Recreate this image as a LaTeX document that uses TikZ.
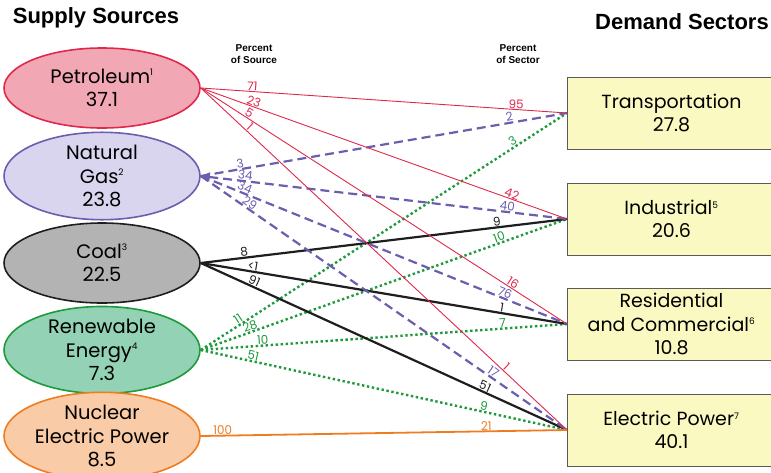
\documentclass[tikz,border=0pt]{standalone}
\usepackage{fontspec}
\setmainfont{Poppins}
\newfontfamily\headfont{Liberation Sans}
\usepackage{tikz}
\usetikzlibrary{shapes.geometric,positioning,arrows.meta}

\definecolor{petline}{HTML}{E0284C}
\definecolor{petfill}{HTML}{F2A7B4}
\definecolor{gasline}{HTML}{6B5EAE}
\definecolor{gasfill}{HTML}{D9D5EE}
\definecolor{coalline}{HTML}{1E1E1E}
\definecolor{coalfill}{HTML}{B3B3B3}
\definecolor{renline}{HTML}{1E9A3C}
\definecolor{renfill}{HTML}{93D2B4}
\definecolor{nucline}{HTML}{EE7D22}
\definecolor{nucfill}{HTML}{F9CBA6}
\definecolor{secfill}{HTML}{FBF9C2}
\definecolor{secline}{HTML}{5A5A5A}

\tikzset{
	source/.style={ellipse, draw, line width=1.6pt, minimum width=196pt, minimum height=80pt,
		inner sep=0pt, align=center, font=\fontsize{19.5}{23.5}\selectfont},
	sector/.style={rectangle, draw=secline, fill=secfill, line width=1pt, anchor=west,
		minimum width=208pt, minimum height=72pt, align=center, font=\fontsize{19}{23.5}\selectfont},
	petflow/.style={color=petline, line width=0.9pt},
	gasflow/.style={color=gasline, line width=2.2pt, dash pattern=on 9pt off 5pt},
	coalflow/.style={color=coalline, line width=2.2pt},
	renflow/.style={color=renline, line width=2.4pt, dash pattern=on 2.4pt off 2.6pt},
	nucflow/.style={color=nucline, line width=1.8pt},
	flowlab/.style={sloped, above, inner sep=0.3pt, font=\fontsize{12}{12}\selectfont},
	headline/.style={font=\headfont\bfseries\fontsize{22}{24}\selectfont},
	colhead/.style={font=\headfont\bfseries\fontsize{10}{11.5}\selectfont, align=center},
}
\newcommand{\supnum}[1]{\textsuperscript{\fontsize{9}{9}\selectfont #1}}

\begin{document}
\begin{tikzpicture}[x=1pt,y=-1pt]

	% Definitions.
	\tikzstyle{every node}=[inner sep=2pt]
	\def\SrcX{102}
	\def\SecX{567}
	\useasboundingbox (0,0) rectangle (771,472);

	% ---------- Headers ---------

	\node[headline] (supply) at (96,18) {Supply Sources};
	\node[headline] (demand) at (682,22) {Demand Sectors};
	\node[colhead] (pctsrc) at (254,54) {Percent\\of Source};
	\node[colhead] (pctsec) at (518,54) {Percent\\of Sector};

	% ---------- Supply Sources ---------

	\node[source, fill=petfill, draw=petline] (petroleum) at (\SrcX,88) {Petroleum\supnum{1}\\37.1};
	\node[source, fill=gasfill, draw=gasline] (gas) at (\SrcX,176) {Natural\\Gas\supnum{2}\\23.8};
	\node[source, fill=coalfill, draw=coalline] (coal) at (\SrcX,263) {Coal\supnum{3}\\22.5};
	\node[source, fill=renfill, draw=renline] (renew) at (\SrcX,350) {Renewable\\Energy\supnum{4}\\7.3};
	\node[source, fill=nucfill, draw=nucline] (nuclear) at (\SrcX,436) {Nuclear\\Electric Power\\8.5};

	% ---------- Demand Sectors ---------

	\node[sector] (transport) at (\SecX,113) {Transportation\\27.8};
	\node[sector] (industrial) at (\SecX,219) {Industrial\supnum{5}\\20.6};
	\node[sector] (residential) at (\SecX,324) {Residential\\and Commercial\supnum{6}\\10.8};
	\node[sector] (electric) at (\SecX,430) {Electric Power\supnum{7}\\40.1};

	% ---------- Flows ---------

	% Renewable.
	\draw[renflow] (renew.east) -- node[flowlab, pos=0.11] {11} node[flowlab, pos=0.86] {3} (transport.west);
	\draw[renflow] (renew.east) -- node[flowlab, pos=0.14] {28} node[flowlab, pos=0.82] {10} (industrial.west);
	\draw[renflow] (renew.east) -- node[flowlab, pos=0.17] {10} node[flowlab, pos=0.825] {7} (residential.west);
	\draw[renflow] (renew.east) -- node[flowlab, pos=0.14] {51} node[flowlab, pos=0.77] {9} (electric.west);

	% Coal.
	\draw[coalflow] (coal.east) -- node[flowlab, pos=0.12] {8} node[flowlab, pos=0.81] {9} (industrial.west);
	\draw[coalflow] (coal.east) -- node[flowlab, pos=0.14] {<1} node[flowlab, pos=0.82] {1} (residential.west);
	\draw[coalflow] (coal.east) -- node[flowlab, pos=0.14] {91} node[flowlab, pos=0.77] {51} (electric.west);

	% Natural gas.
	\draw[gasflow] (gas.east) -- node[flowlab, pos=0.11] {3} node[flowlab, pos=0.845] {2} (transport.west);
	\draw[gasflow, {Triangle[length=9pt,width=9pt]}-] (gas.east) -- node[flowlab, pos=0.12] {34} node[flowlab, pos=0.835] {40} (industrial.west);
	\draw[gasflow] (gas.east) -- node[flowlab, pos=0.115] {34} node[flowlab, pos=0.825] {76} (residential.west);
	\draw[gasflow] (gas.east) -- node[flowlab, pos=0.125] {29} node[flowlab, pos=0.79] {17} (electric.west);

	% Petroleum.
	\draw[petflow] (petroleum.east) -- node[flowlab, pos=0.14] {71} node[flowlab, pos=0.86] {95} (transport.west);
	\draw[petflow] (petroleum.east) -- node[flowlab, pos=0.14] {23} node[flowlab, pos=0.845] {42} (industrial.west);
	\draw[petflow] (petroleum.east) -- node[flowlab, pos=0.125] {5} node[flowlab, pos=0.845] {16} (residential.west);
	\draw[petflow] (petroleum.east) -- node[flowlab, pos=0.125] {1} node[flowlab, pos=0.825] {1} (electric.west);

	% Nuclear.
	\draw[nucflow] (nuclear.east) -- node[flowlab, pos=0.06] {100} node[flowlab, pos=0.78] {21} (electric.west);

\end{tikzpicture}
\end{document}
